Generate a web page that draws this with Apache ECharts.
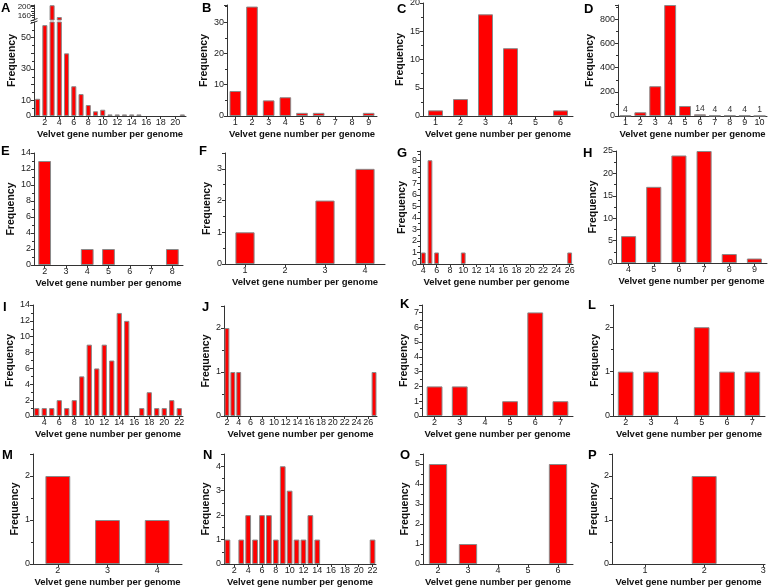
<!DOCTYPE html>
<html><head><meta charset="utf-8">
<script src="https://cdn.jsdelivr.net/npm/echarts@6/dist/echarts.min.js"></script>
<style>html,body{margin:0;padding:0;background:#fff}#c{width:769px;height:588px}</style>
</head><body><div id="c"></div>
<script>
// ---- data ----
const catsA = ['1','2','3','4','5','6','7','8','9','10','11','12','13','14','15','16','17','18','19','20','21'];
const valsA = [11,58,205,153,40,19,14,7,3,4,1,1,1,1,1,0,0,0,0,0,1];
const yTicksALow = [0,10,30,50];
const yTicksAHigh = [160,200];

const catsB = ['1','2','3','4','5','6','7','8','9'];
const valsB = [8,35,5,6,1,1,0,0,1];
const yTicksB = [0,10,20,30];

const catsC = ['1','2','3','4','5','6'];
const valsC = [1,3,18,12,0,1];
const yTicksC = [0,5,10,15,20];

const catsD = ['1','2','3','4','5','6','7','8','9','10'];
const valsD = [4,31,247,920,83,14,4,4,4,1];
const yTicksD = [0,200,400,600,800];

const catsE = ['2','3','4','5','6','7','8'];
const valsE = [13,0,2,2,0,0,2];
const yTicksE = [0,2,4,6,8,10,12,14];

const catsF = ['1','2','3','4'];
const valsF = [1,0,2,3];
const yTicksF = [0,1,2,3];

const catsG = ['4','5','6','7','8','9','10','11','12','13','14','15','16','17','18','19','20','21','22','23','24','25','26'];
const valsG = [1,9,1,0,0,0,1,0,0,0,0,0,0,0,0,0,0,0,0,0,0,0,1];
const yTicksG = [0,1,2,3,4,5,6,7,8,9];

const catsH = ['4','5','6','7','8','9'];
const valsH = [6,17,24,25,2,1];
const yTicksH = [0,5,10,15,20,25];

const catsI = ['3','4','5','6','7','8','9','10','11','12','13','14','15','16','17','18','19','20','21','22'];
const valsI = [1,1,1,2,1,2,5,9,6,9,7,13,12,0,1,3,1,1,2,1];
const yTicksI = [0,2,4,6,8,10,12,14];

const catsJ = ['2','3','4','5','6','7','8','9','10','11','12','13','14','15','16','17','18','19','20','21','22','23','24','25','26','27'];
const valsJ = [2,1,1,0,0,0,0,0,0,0,0,0,0,0,0,0,0,0,0,0,0,0,0,0,0,1];
const yTicksJ = [0,1,2];

const catsK = ['2','3','4','5','6','7'];
const valsK = [2,2,0,1,7,1];
const yTicksK = [0,1,2,3,4,5,6,7];

const catsL = ['2','3','4','5','6','7'];
const valsL = [1,1,0,2,1,1];
const yTicksL = [0,1,2];

const catsM = ['2','3','4'];
const valsM = [2,1,1];
const yTicksM = [0,1,2];

const catsN = ['1','2','3','4','5','6','7','8','9','10','11','12','13','14','15','16','17','18','19','20','21','22'];
const valsN = [1,0,1,2,1,2,2,1,4,3,1,1,2,1,0,0,0,0,0,0,0,1];
const yTicksN = [0,1,2,3,4];

const catsO = ['2','3','4','5','6'];
const valsO = [5,1,0,0,5];
const yTicksO = [0,1,2,3,4,5];

const catsP = [1,2,3];
const valsP = [0,2,0];
const yTicksP = [0,1,2];

const panelLetters = ['A','B','C','D','E','F','G','H','I','J','K','L','M','N','O','P'];

// ---- styling / layout ----
const FONT = '"Liberation Sans", Arial, sans-serif';
const AX = '#333';
const TICKFS = 9;
const XNAME = 'Velvet gene number per genome';
const YNAME = 'Frequency';
const even = (i, v) => Number(v) % 2 === 0;

const option = {animation:false, title:[], grid:[], xAxis:[], yAxis:[], series:[], graphic:[]};

const letterPos = [[1,2],[202,2],[397,3],[584,3],[1,145],[199,145],[397,147],[583,147],[3,301],[202,301],[400,298],[588,299],[2,449],[203,449],[400,449],[588,449]];
panelLetters.forEach((t,i)=>{
  option.title.push({text:t, left:letterPos[i][0], top:letterPos[i][1], padding:0,
    textStyle:{fontSize:13, fontWeight:'bold', color:'#000', fontFamily:FONT}});
});

function yAxisCfg(gi, p){
  return {type:'value', gridIndex:gi, min:p.ymin||0, max:p.ymax, interval:p.yInt,
    axisLine:{show:true, lineStyle:{color:AX, width:1}},
    axisTick:{show:true, length:3, lineStyle:{color:AX}},
    minorTick:{show:true, splitNumber:2, length:2, lineStyle:{color:AX}},
    axisLabel:{customValues:p.yLabels, fontSize:p.yfs||TICKFS, color:'#222', margin:3, fontFamily:FONT},
    splitLine:{show:false},
    name: p.noName ? '' : YNAME, nameLocation:'middle', nameGap:p.ng,
    nameTextStyle:{fontSize:10.5, fontWeight:'bold', color:'#111', fontFamily:FONT}};
}

function addPanel(p){
  const gi = option.grid.length;
  option.grid.push({left:p.g[0], top:p.g[1], width:p.g[2], height:p.g[3], containLabel:false, outerBoundsMode:'none'});
  if (p.valueX) {
    option.xAxis.push({type:'value', gridIndex:gi, min:p.xmin, max:p.xmax,
      axisLine:{show:true, lineStyle:{color:AX}},
      axisTick:{show:true, length:3, customValues:p.cats, lineStyle:{color:AX}},
      axisLabel:{customValues:p.cats, fontSize:TICKFS, color:'#222', margin:2.5, fontFamily:FONT},
      splitLine:{show:false},
      name:XNAME, nameLocation:'middle', nameGap:13,
      nameTextStyle:{fontSize:9.5, fontWeight:'bold', color:'#111', fontFamily:FONT}});
  } else {
    option.xAxis.push({type:'category', gridIndex:gi, data:p.cats, show: !p.hideX,
      axisLine:{show:true, lineStyle:{color:AX}},
      axisTick:{show:true, length:3, alignWithLabel:true, interval: p.every2 ? even : 0, lineStyle:{color:AX}},
      axisLabel:{interval: p.every2 ? even : 0, fontSize:TICKFS, color:'#222', margin:2.5, fontFamily:FONT},
      splitLine:{show:false},
      name:XNAME, nameLocation:'middle', nameGap:13,
      nameTextStyle:{fontSize:9.5, fontWeight:'bold', color:'#111', fontFamily:FONT}});
  }
  option.yAxis.push(yAxisCfg(gi, p));
  let data;
  if (p.valueX) data = p.cats.map((c,i)=>[c, p.vals[i] === 0 ? '-' : p.vals[i]]);
  else data = p.vals.map(v => v === 0 ? '-' : v);
  if (p.smallLabels) {
    data = p.vals.map(v => v === 0 ? '-' : (v < 20 ? {value:v, label:{show:true}} : v));
  }
  const s = {type:'bar', xAxisIndex:gi, yAxisIndex:gi, data:data, clip:true,
    itemStyle:{color:'#ff0000', borderColor:'#8a8a8a', borderWidth:1},
    label:{show:false, position:'top', distance:1, fontSize:8.5, color:'#333', fontFamily:FONT}};
  if (p.barWidth) s.barWidth = p.barWidth; else s.barCategoryGap = p.gap;
  option.series.push(s);
}

// Panel A: broken axis, two stacked grids
addPanel({cats:catsA, vals:valsA, g:[34,22,152,94], ymin:0, ymax:60, yInt:10, yLabels:yTicksALow, every2:true, gap:'30%', noName:true});
addPanel({cats:catsA, vals:valsA, g:[34,5,152,15], ymin:140, ymax:206, yInt:20, yLabels:yTicksAHigh, every2:true, gap:'30%', noName:true, hideX:true, yfs:8});
// name-only grid for A
(function(){
  const gi = option.grid.length;
  option.grid.push({left:34, top:5, width:152, height:111, outerBoundsMode:'none'});
  option.xAxis.push({type:'value', gridIndex:gi, min:0, max:1, show:false});
  option.yAxis.push({type:'value', gridIndex:gi, min:0, max:1, show:true,
    axisLine:{show:false}, axisTick:{show:false}, axisLabel:{show:false}, splitLine:{show:false},
    name:YNAME, nameLocation:'middle', nameGap:16,
    nameTextStyle:{fontSize:10.5, fontWeight:'bold', color:'#111', fontFamily:FONT}});
})();

addPanel({cats:catsB, vals:valsB, g:[227,5,150,111], ymax:35.5, yInt:10, yLabels:yTicksB, gap:'30%', ng:13});
addPanel({cats:catsC, vals:valsC, g:[423,3,150,113], ymax:20, yInt:5, yLabels:yTicksC, gap:'40%', ng:13});
addPanel({cats:catsD, vals:valsD, g:[618,5,149,111], ymax:920, yInt:200, yLabels:yTicksD, gap:'20%', ng:19, smallLabels:true});

addPanel({cats:catsE, vals:valsE, g:[34,153,149,112], ymax:14, yInt:2, yLabels:yTicksE, gap:'40%', ng:12});
addPanel({cats:catsF, vals:valsF, g:[225,153,160,111], ymax:3.5, yInt:1, yLabels:yTicksF, gap:'52%', ng:6.5});
addPanel({cats:catsG, vals:valsG, g:[420,151,153,113], ymax:9.8, yInt:1, yLabels:yTicksG, every2:true, gap:'28%', ng:7});
addPanel({cats:catsH, vals:valsH, g:[616,151,151,112], ymax:25, yInt:5, yLabels:yTicksH, gap:'40%', ng:13});

addPanel({cats:catsI, vals:valsI, g:[33,305,150,111], ymax:14, yInt:2, yLabels:yTicksI, every2:true, gap:'30%', ng:12});
addPanel({cats:catsJ, vals:valsJ, g:[224,306,153,110], ymax:2.5, yInt:1, yLabels:yTicksJ, every2:true, gap:'17%', ng:7.5});
addPanel({cats:catsK, vals:valsK, g:[422,305,151,111], ymax:7.5, yInt:1, yLabels:yTicksK, gap:'37%', ng:7.5});
addPanel({cats:catsL, vals:valsL, g:[613,305,152,111], ymax:2.5, yInt:1, yLabels:yTicksL, gap:'38%', ng:6});

addPanel({cats:catsM, vals:valsM, g:[33,454,149,110], ymax:2.5, yInt:1, yLabels:yTicksM, gap:'50%', ng:8.5});
addPanel({cats:catsN, vals:valsN, g:[224,454,152,110], ymax:4.5, yInt:1, yLabels:yTicksN, every2:true, gap:'17%', ng:6.5});
addPanel({cats:catsO, vals:valsO, g:[423,454,150,110], ymax:5.5, yInt:1, yLabels:yTicksO, gap:'39%', ng:8.5});
addPanel({cats:catsP, vals:valsP, g:[612,454,153,110], ymax:2.5, yInt:1, yLabels:yTicksP, valueX:true, xmin:0.44, xmax:3.03, barWidth:25, ng:7.5});

// axis break mark on panel A
option.graphic = [
  {type:'line', shape:{x1:30.5, y1:21, x2:37.5, y2:18.5}, style:{stroke:AX, lineWidth:1}, z:100},
  {type:'line', shape:{x1:30.5, y1:23.5, x2:37.5, y2:21}, style:{stroke:AX, lineWidth:1}, z:100}
];

const chart = echarts.init(document.getElementById('c'), null, {renderer:'canvas'});
chart.setOption(option);
</script>
</body></html>
